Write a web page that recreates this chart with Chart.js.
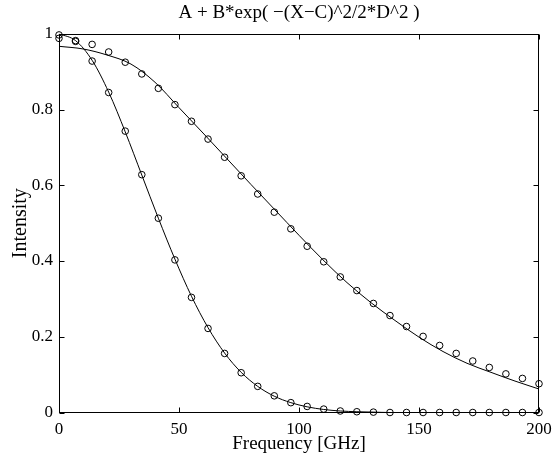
<!DOCTYPE html>
<html>
<head>
<meta charset="utf-8">
<script src="https://cdn.jsdelivr.net/npm/chart.js@4/dist/chart.umd.min.js"></script>
<style>
  html, body { margin: 0; padding: 0; background: #fff; }
  #wrap { width: 559px; height: 460px; }
</style>
</head>
<body>
<div id="wrap"><canvas id="chart" width="559" height="460"></canvas></div>
<script>
// measured frequencies (GHz)
const freq = [0, 6.9, 13.8, 20.7, 27.6, 34.5, 41.4, 48.3, 55.2, 62.1,
    69.0, 75.9, 82.8, 89.7, 96.6, 103.4, 110.3, 117.2, 124.1, 131.0,
    137.9, 144.8, 151.7, 158.6, 165.5, 172.4, 179.3, 186.2, 193.1, 200];

// fast decaying data set (circles)
const fastData = [0.997, 0.982, 0.928, 0.845, 0.743, 0.628, 0.513, 0.403, 0.304, 0.222,
    0.156, 0.105, 0.069, 0.044, 0.026, 0.016, 0.009, 0.004, 0.002, 0.001,
    0, 0, 0, 0, 0, 0, 0, 0, 0, 0];

// slow decaying data set (circles)
const slowData = [0.988, 0.980, 0.972, 0.952, 0.925, 0.894, 0.856, 0.813, 0.769, 0.722,
    0.674, 0.625, 0.577, 0.529, 0.485, 0.439, 0.398, 0.358, 0.322, 0.288,
    0.256, 0.227, 0.201, 0.177, 0.156, 0.136, 0.119, 0.102, 0.090, 0.076];

// gaussian fit through the fast set, read at the data frequencies
const fastFit = [1.000, 0.982, 0.930, 0.846, 0.741, 0.627, 0.513, 0.405, 0.307, 0.224,
    0.157, 0.106, 0.069, 0.043, 0.026, 0.015, 0.008, 0.004, 0.002, 0.001,
    0, 0, 0, 0, 0, 0, 0, 0, 0, 0];

// gaussian fit through the slow set
const slowFitX = [0, 10, 20, 30, 40, 50, 60, 70, 80, 90, 100,
    110, 120, 130, 140, 150, 160, 170, 180, 190, 200];
const slowFit = [0.967, 0.960, 0.944, 0.920, 0.872, 0.805, 0.738, 0.670, 0.602, 0.535, 0.468,
    0.403, 0.343, 0.290, 0.243, 0.199, 0.161, 0.130, 0.106, 0.083, 0.062];

const xTicks = [0, 50, 100, 150, 200];
const xTickLabels = ['0', '50', '100', '150', '200'];
const yTicks = [0, 0.2, 0.4, 0.6, 0.8, 1];
const yTickLabels = ['0', '0.2', '0.4', '0.6', '0.8', '1'];

const TITLE = 'A + B*exp( \u2212(X\u2212C)^2/2*D^2 )';
const FONT = '"Liberation Serif", "Times New Roman", serif';

function pairs(xs, ys) {
    return xs.map((x, i) => ({ x: x, y: ys[i] }));
}

// matlab style box with ticks pointing inwards
const inwardTicks = {
    id: 'inwardTicks',
    afterDatasetsDraw(chart) {
        const { ctx, chartArea: a, scales } = chart;
        const L = Math.round(a.left) + 0.5, R = Math.round(a.right) - 0.5;
        const T = Math.round(a.top) + 0.5, B = Math.round(a.bottom) - 0.5;
        const len = 5;
        ctx.save();
        ctx.strokeStyle = '#000';
        ctx.lineWidth = 1;
        ctx.strokeRect(L, T, R - L, B - T);
        ctx.beginPath();
        scales.x.ticks.forEach(t => {
            const px = Math.round(scales.x.getPixelForValue(t.value)) + 0.5;
            ctx.moveTo(px, B); ctx.lineTo(px, B - len);
            ctx.moveTo(px, T); ctx.lineTo(px, T + len);
        });
        scales.y.ticks.forEach(t => {
            const py = Math.round(scales.y.getPixelForValue(t.value)) + 0.5;
            ctx.moveTo(L, py); ctx.lineTo(L + len, py);
            ctx.moveTo(R, py); ctx.lineTo(R - len, py);
        });
        ctx.stroke();
        ctx.restore();
    }
};

const lineStyle = {
    showLine: true,
    borderColor: '#000',
    borderWidth: 1,
    pointRadius: 0,
    tension: 0.4,
    cubicInterpolationMode: 'monotone'
};

const markerStyle = {
    showLine: false,
    pointStyle: 'circle',
    pointRadius: 3.3,
    pointBorderWidth: 1,
    pointBorderColor: '#000',
    pointBackgroundColor: 'rgba(0,0,0,0)',
    clip: false
};

new Chart(document.getElementById('chart'), {
    type: 'scatter',
    data: {
        datasets: [
            { label: 'slow fit', data: pairs(slowFitX, slowFit), ...lineStyle },
            { label: 'fast fit', data: pairs(freq, fastFit), ...lineStyle },
            { label: 'slow', data: pairs(freq, slowData), ...markerStyle },
            { label: 'fast', data: pairs(freq, fastData), ...markerStyle }
        ]
    },
    options: {
        responsive: false,
        animation: false,
        devicePixelRatio: 1,
        layout: { padding: { left: 0, right: 20, top: 0, bottom: 0 } },
        plugins: {
            legend: { display: false },
            tooltip: { enabled: false },
            title: {
                display: true,
                fullSize: false,
                text: TITLE,
                color: '#000',
                font: { family: FONT, size: 19, weight: 'normal' },
                padding: { top: 2, bottom: 9 }
            }
        },
        scales: {
            x: {
                type: 'linear',
                min: 0,
                max: 200,
                grid: { display: false, drawTicks: false },
                border: { display: false },
                afterBuildTicks: axis => { axis.ticks = xTicks.map(v => ({ value: v })); },
                afterFit: axis => { axis.height = 47.5; },
                ticks: {
                    color: '#000',
                    padding: 7,
                    maxRotation: 0,
                    font: { family: FONT, size: 17 },
                    callback: v => xTickLabels[xTicks.indexOf(v)]
                },
                title: {
                    display: true,
                    text: 'Frequency [GHz]',
                    color: '#000',
                    font: { family: FONT, size: 19 },
                    padding: { top: 0, bottom: 5 }
                }
            },
            y: {
                type: 'linear',
                min: 0,
                max: 1,
                grid: { display: false, drawTicks: false },
                border: { display: false },
                afterBuildTicks: axis => { axis.ticks = yTicks.map(v => ({ value: v })); },
                afterFit: axis => { axis.width = 59; },
                ticks: {
                    color: '#000',
                    padding: 6,
                    font: { family: FONT, size: 17 },
                    callback: v => yTickLabels[yTicks.indexOf(v)]
                },
                title: {
                    display: true,
                    text: 'Intensity',
                    color: '#000',
                    font: { family: FONT, size: 20 },
                    padding: { top: 9, bottom: 0 }
                }
            }
        }
    },
    plugins: [inwardTicks]
});
</script>
</body>
</html>
